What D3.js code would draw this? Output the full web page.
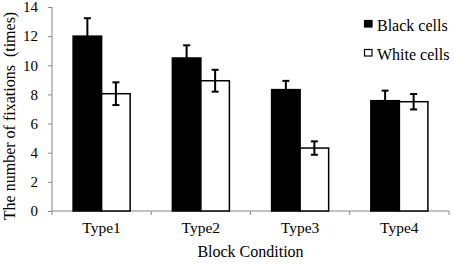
<!DOCTYPE html>
<html>
<head>
<meta charset="utf-8">
<script src="https://cdn.jsdelivr.net/npm/d3@7"></script>
<style>
  body { margin: 0; background: #fff; }
  svg text { font-family: "Liberation Serif", "Times New Roman", serif !important; fill: #000; }
</style>
</head>
<body>
<div id="chart"></div>
<script>
// data
const categories = ["Type1", "Type2", "Type3", "Type4"];
const seriesNames = ["Black cells", "White cells"];
const blackValues = [12.0, 10.5, 8.33, 7.57];
const blackErrors = [1.23, 0.87, 0.6, 0.69];
const whiteValues = [8.05, 8.94, 4.32, 7.5];
const whiteErrors = [0.78, 0.75, 0.46, 0.53];
const yTicks = [0, 2, 4, 6, 8, 10, 12, 14];

const width = 454, height = 265;
const margin = {top: 7, right: 5, bottom: 54, left: 52};

const svg = d3.select("#chart").append("svg")
    .attr("width", width)
    .attr("height", height);

const x0 = d3.scaleBand()
    .domain(categories)
    .range([margin.left, width - margin.right])
    .padding(0);

const x1 = d3.scaleBand()
    .domain(seriesNames)
    .range([0, x0.bandwidth()])
    .paddingInner(0)
    .paddingOuter(0.74);

const y = d3.scaleLinear()
    .domain([0, 14])
    .range([height - margin.bottom, margin.top]);

const fills = {"Black cells": "#000", "White cells": "#fff"};

// rows built from the arrays
const rows = categories.map((c, i) => ({
    cat: c,
    bars: [
        {key: "Black cells", value: blackValues[i], err: blackErrors[i]},
        {key: "White cells", value: whiteValues[i], err: whiteErrors[i]}
    ]
}));

// y axis
const yAxis = svg.append("g")
    .attr("transform", "translate(" + margin.left + ",0)")
    .call(d3.axisLeft(y).tickValues(yTicks).tickSize(4).tickPadding(10));
yAxis.select(".domain").attr("stroke", "#888").attr("d", "M0," + y(14) + "V" + y(0));
yAxis.selectAll(".tick line").attr("stroke", "#888");
yAxis.selectAll(".tick text")
    .style("font-size", "15px");

// x axis (ticks at category boundaries)
const xAxisG = svg.append("g")
    .attr("transform", "translate(0," + y(0) + ")");
xAxisG.append("line")
    .attr("x1", margin.left).attr("x2", width - margin.right)
    .attr("stroke", "#888");
const bounds = categories.map(c => x0(c)).concat([x0(categories[categories.length - 1]) + x0.bandwidth()]);
xAxisG.selectAll(".bt")
    .data(bounds)
    .enter().append("line")
    .attr("x1", d => d).attr("x2", d => d)
    .attr("y1", 0).attr("y2", 4)
    .attr("stroke", "#888");
xAxisG.selectAll(".cat")
    .data(categories)
    .enter().append("text")
    .attr("x", d => x0(d) + x0.bandwidth() / 2)
    .attr("y", 22)
    .attr("text-anchor", "middle")
    .style("font-size", "15.5px")
    .text(d => d);

// bars
const groups = svg.selectAll(".grp")
    .data(rows)
    .enter().append("g")
    .attr("transform", d => "translate(" + x0(d.cat) + ",0)");

groups.selectAll("rect")
    .data(d => d.bars)
    .enter().append("rect")
    .attr("x", d => x1(d.key))
    .attr("y", d => y(d.value))
    .attr("width", x1.bandwidth())
    .attr("height", d => y(0) - y(d.value))
    .attr("fill", d => fills[d.key])
    .attr("stroke", "#000")
    .attr("stroke-width", 1.5);

// error bars
const err = groups.selectAll(".err")
    .data(d => d.bars)
    .enter().append("g")
    .attr("transform", d => "translate(" + (x1(d.key) + x1.bandwidth() / 2) + ",0)");
err.append("line")
    .attr("y1", d => y(d.value - d.err))
    .attr("y2", d => y(d.value + d.err))
    .attr("stroke", "#000").attr("stroke-width", 2);
err.append("line")
    .attr("x1", -3.5).attr("x2", 3.5)
    .attr("y1", d => y(d.value + d.err)).attr("y2", d => y(d.value + d.err))
    .attr("stroke", "#000").attr("stroke-width", 2);
err.append("line")
    .attr("x1", -3.5).attr("x2", 3.5)
    .attr("y1", d => y(d.value - d.err)).attr("y2", d => y(d.value - d.err))
    .attr("stroke", "#000").attr("stroke-width", 2);

// axis titles
svg.append("text")
    .attr("x", (margin.left + width - margin.right) / 2)
    .attr("y", 257)
    .attr("text-anchor", "middle")
    .style("font-size", "16px")
    .text("Block Condition");

svg.append("text")
    .attr("transform", "translate(14.5," + 116 + ") rotate(-90)")
    .attr("text-anchor", "middle")
    .style("font-size", "16px")
    .style("white-space", "pre")
    .text("The number of fixations  (times)");

// legend
const legend = svg.selectAll(".leg")
    .data(seriesNames)
    .enter().append("g")
    .attr("transform", (d, i) => "translate(364," + (20 + i * 29) + ")");
legend.append("rect")
    .attr("x", 0.5).attr("y", 0.5)
    .attr("width", 7.5).attr("height", 6.5)
    .attr("fill", d => fills[d])
    .attr("stroke", "#000")
    .attr("stroke-width", 1.2);
legend.append("text")
    .attr("x", 13)
    .attr("y", 11)
    .style("font-size", "16px")
    .text(d => d);
</script>
</body>
</html>
